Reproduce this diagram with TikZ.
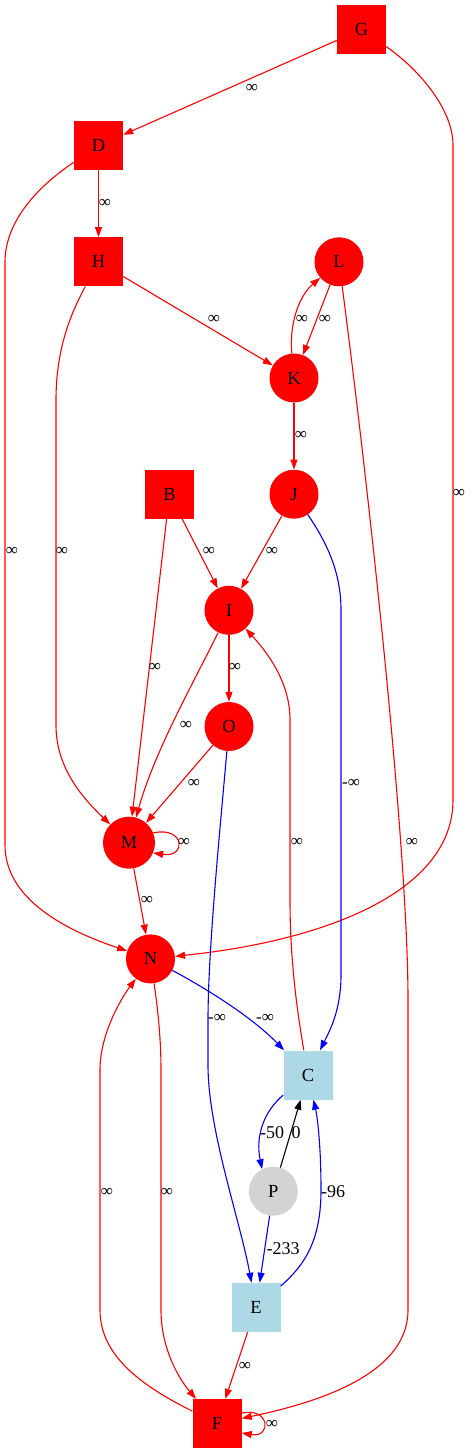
\documentclass[tikz,border=0pt]{standalone}
\usepackage{fontspec}
\setmainfont{Liberation Serif}
\usetikzlibrary{arrows.meta}
\definecolor{lblue}{HTML}{ADD8E6}
\definecolor{lgray}{HTML}{D3D3D3}
\begin{document}
\begin{tikzpicture}[x=1pt,y=-1pt,
  sqr/.style={rectangle, fill=red, minimum size=49pt, inner sep=0pt, font=\fontsize{18.5}{20}\selectfont},
  rcirc/.style={circle, fill=red, minimum size=49pt, inner sep=0pt, font=\fontsize{18.5}{20}\selectfont},
  lbsq/.style={rectangle, fill=lblue, minimum size=49pt, inner sep=0pt, font=\fontsize{18.5}{20}\selectfont},
  gcirc/.style={circle, fill=lgray, minimum size=49pt, inner sep=0pt, font=\fontsize{18.5}{20}\selectfont},
  conn/.style={line width=1.1pt, -{Triangle[length=10pt,width=7pt]}},
  redge/.style={conn, red},
  bedge/.style={conn, blue},
  kedge/.style={conn, black},
  lab/.style={inner sep=0pt, font=\fontsize{18}{20}\selectfont},
  inf/.style={inner sep=0pt, font=\fontsize{17}{18}\selectfont}
]
\useasboundingbox (0,0) rectangle (472,1453);

% nodes
\node[sqr] (G) at (361.5,29.5) {G};
\node[sqr] (D) at (98.5,145.7) {D};
\node[sqr] (H) at (98.5,261.8) {H};
\node[rcirc] (L) at (339,261.8) {L};
\node[rcirc] (K) at (294,378) {K};
\node[sqr] (B) at (169.5,494.2) {B};
\node[rcirc] (J) at (294,494.2) {J};
\node[rcirc] (I) at (229,610.3) {I};
\node[rcirc] (O) at (229,726.5) {O};
\node[rcirc, minimum size=52pt] (M) at (129,842.7) {M};
\node[rcirc] (N) at (150.5,958.9) {N};
\node[lbsq] (C) at (308,1075) {C};
\node[gcirc] (P) at (273.3,1191.2) {P};
\node[lbsq] (E) at (256,1307.4) {E};
\node[sqr] (F) at (217,1423.5) {F};

% edges
\draw[redge] (G) -- (D);
\draw[redge] (G) .. controls (420,70) and (453,110) .. (453,145) -- (453,800) .. controls (453,890) and (330,940) .. (N);
\draw[redge] (D) -- (H);
\draw[redge] (D) .. controls (40,185) and (5,220) .. (5,262) -- (5,845) .. controls (5,905) and (80,935) .. (N);
\draw[redge] (H) -- (K);
\draw[redge] (H) .. controls (70,315) and (56,350) .. (56,400) -- (56,725) .. controls (56,770) and (85,800) .. (M);
\draw[redge] (K) .. controls (289,322) and (300,295) .. (L);
\draw[redge] (L) -- (K);
\draw[redge] (L) .. controls (370,500) and (408,850) .. (408,1000) -- (408,1310) .. controls (408,1370) and (330,1400) .. (F);
\draw[redge] (K) -- (J);
\draw[redge] (J) -- (I);
\draw[bedge] (J) .. controls (325,540) and (341,570) .. (341,610) -- (341,975) .. controls (341,1010) and (330,1030) .. (C);
\draw[redge] (B) -- (I);
\draw[redge] (B) -- (M);
\draw[redge] (I) -- (O);
\draw[redge] (I) .. controls (195,680) and (155,750) .. (M);
\draw[redge] (O) -- (M);
\draw[bedge] (O) .. controls (220,830) and (208,950) .. (208,1020) -- (208,1065) .. controls (208,1130) and (240,1220) .. (E);
\draw[redge] (M.22) .. controls (185,826) and (187,858) .. (M.-23);
\draw[redge] (M) -- (N);
\draw[bedge] (N) .. controls (200,985) and (250,1015) .. (C);
\draw[redge] (N) .. controls (158,1010) and (161,1040) .. (161,1070) -- (161,1310) .. controls (161,1350) and (180,1380) .. (F);
\draw[redge] (F) .. controls (140,1385) and (100,1355) .. (100,1310) -- (100,1070) .. controls (100,1035) and (120,1000) .. (N);
\draw[redge] (C) .. controls (297,1010) and (290,960) .. (290,900) -- (290,720) .. controls (290,680) and (265,650) .. (I);
\draw[bedge] (C) .. controls (265,1110) and (255,1135) .. (P.117);
\draw[kedge] (P) -- (C);
\draw[bedge] (P) -- (E);
\draw[bedge] (E) .. controls (305,1265) and (321,1240) .. (321,1190) .. controls (321,1150) and (318,1120) .. (C);
\draw[redge] (E) -- (F);
\draw[redge] (F.23) .. controls (270,1407) and (272,1438) .. (F.-21);

% labels
\node[inf] (l1) at (252,88) {∞};
\node[inf] (l2) at (459,493) {∞};
\node[inf] (l3) at (105,203) {∞};
\node[inf] (l4) at (12,551) {∞};
\node[inf] (l5) at (214,319) {∞};
\node[inf] (l6) at (62,551) {∞};
\node[inf] (l7) at (302,319) {∞};
\node[inf] (l8) at (325,319) {∞};
\node[inf] (l9) at (412,842) {∞};
\node[inf] (l10) at (301,435) {∞};
\node[inf] (l11) at (272,551) {∞};
\node[inf, anchor=west] (l12) at (342,783) {-∞};
\node[inf] (l13) at (209,551) {∞};
\node[inf] (l14) at (155,667) {∞};
\node[inf] (l15) at (235,667) {∞};
\node[inf] (l16) at (186,725) {∞};
\node[inf] (l17) at (194,783) {∞};
\node[inf, anchor=west] (l18) at (208,1018) {-∞};
\node[inf] (l19) at (184,842) {∞};
\node[inf] (l20) at (147,900) {∞};
\node[inf] (l21) at (265,1018) {-∞};
\node[inf] (l22) at (167,1192) {∞};
\node[inf] (l23) at (107,1192) {∞};
\node[inf] (l24) at (297,842) {∞};
\node[lab] (l25) at (272,1133) {-50};
\node[lab] (l26) at (296,1133) {0};
\node[lab] (l27) at (283,1249) {-233};
\node[lab] (l28) at (333,1192) {-96};
\node[inf] (l29) at (245,1366) {∞};
\node[inf] (l30) at (272,1424) {∞};
\end{tikzpicture}
\end{document}
